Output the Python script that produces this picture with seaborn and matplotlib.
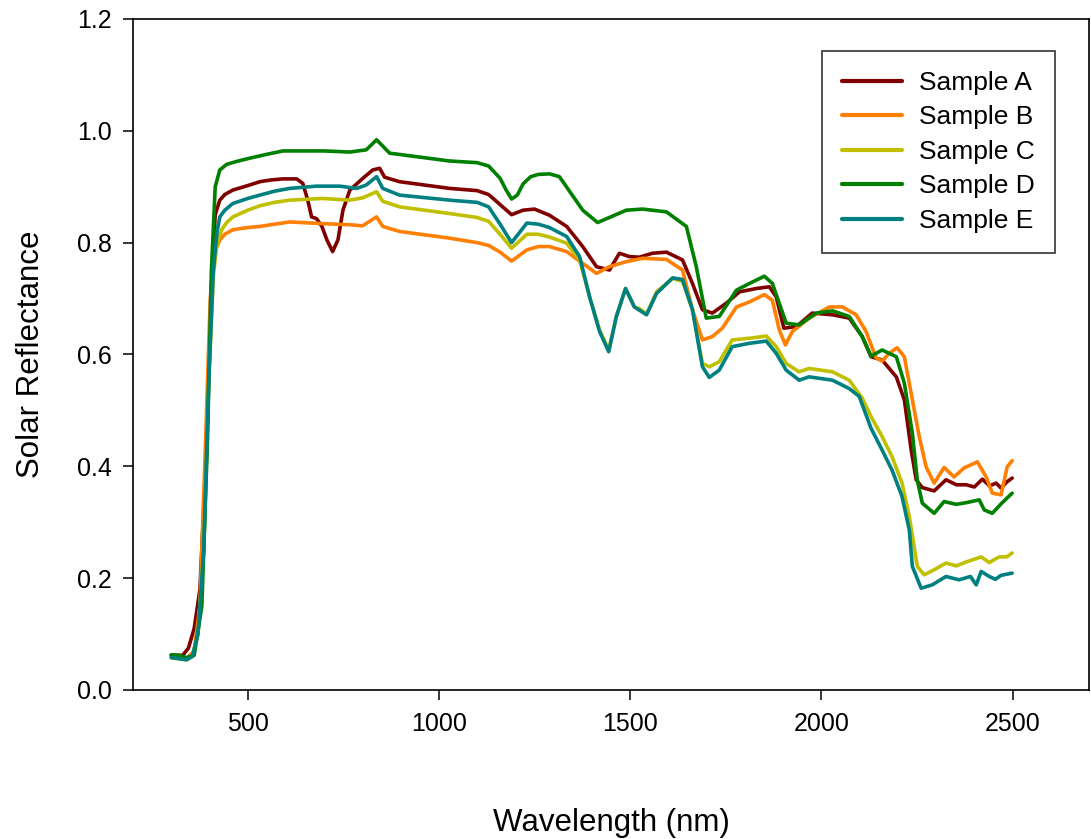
import matplotlib
matplotlib.use("Agg")
from matplotlib import pyplot as plt
import pandas as pd
import seaborn as sns

# wavelengths (nm) and reflectance, one pair of lists per sample
wl_a = [300, 330, 345, 360, 375, 390, 405, 415, 427, 440, 461, 500, 532, 560, 592, 628, 644, 657, 667, 680, 694,
        707, 722, 736, 749, 767, 801, 827, 845, 858, 897, 1028, 1100, 1130, 1160, 1190, 1220, 1250, 1289, 1334,
        1376, 1412, 1446, 1472, 1498, 1524, 1558, 1595, 1637, 1663, 1689, 1715, 1752, 1786, 1830, 1864, 1882,
        1902, 1935, 1976, 2029, 2073, 2107, 2130, 2159, 2196, 2217, 2235, 2248, 2264, 2295, 2326, 2353, 2379,
        2400, 2421, 2440, 2457, 2470, 2485, 2499]
ref_a = [0.062, 0.062, 0.075, 0.11, 0.18, 0.40, 0.72, 0.85, 0.876, 0.886, 0.894, 0.902, 0.909, 0.912, 0.914,
         0.914, 0.906, 0.876, 0.846, 0.843, 0.829, 0.805, 0.784, 0.805, 0.858, 0.894, 0.915, 0.930, 0.933, 0.917,
         0.909, 0.897, 0.893, 0.886, 0.868, 0.850, 0.858, 0.860, 0.849, 0.829, 0.793, 0.757, 0.751, 0.781, 0.775,
         0.774, 0.781, 0.783, 0.769, 0.727, 0.680, 0.674, 0.692, 0.712, 0.718, 0.721, 0.703, 0.647, 0.650, 0.674,
         0.671, 0.665, 0.632, 0.596, 0.590, 0.560, 0.519, 0.429, 0.376, 0.362, 0.356, 0.376, 0.367, 0.367, 0.363,
         0.377, 0.365, 0.370, 0.361, 0.372, 0.379]

wl_b = [300, 340, 360, 375, 390, 402, 412, 427, 440, 461, 500, 532, 570, 610, 696, 767, 800, 837, 853, 897, 1028,
        1100, 1130, 1160, 1190, 1230, 1260, 1289, 1334, 1376, 1412, 1446, 1490, 1533, 1595, 1637, 1663, 1689,
        1715, 1741, 1778, 1812, 1851, 1872, 1890, 1906, 1924, 1968, 2021, 2055, 2091, 2117, 2143, 2159, 2177,
        2198, 2217, 2238, 2256, 2274, 2295, 2321, 2347, 2373, 2408, 2431, 2447, 2470, 2486, 2499]
ref_b = [0.058, 0.056, 0.07, 0.15, 0.45, 0.70, 0.78, 0.805, 0.815, 0.823, 0.827, 0.829, 0.833, 0.837, 0.834,
         0.832, 0.830, 0.846, 0.829, 0.820, 0.808, 0.800, 0.795, 0.783, 0.767, 0.787, 0.793, 0.793, 0.784, 0.763,
         0.745, 0.757, 0.766, 0.772, 0.770, 0.751, 0.680, 0.626, 0.632, 0.647, 0.685, 0.694, 0.707, 0.697, 0.644,
         0.617, 0.641, 0.665, 0.685, 0.685, 0.671, 0.641, 0.594, 0.588, 0.602, 0.612, 0.596, 0.519, 0.453, 0.399,
         0.370, 0.398, 0.381, 0.397, 0.408, 0.381, 0.352, 0.349, 0.399, 0.410]

wl_c = [300, 320, 340, 355, 370, 385, 398, 410, 420, 432, 445, 461, 500, 532, 570, 610, 696, 767, 800, 837, 853,
        897, 1028, 1100, 1130, 1160, 1190, 1230, 1260, 1289, 1334, 1368, 1394, 1420, 1444, 1464, 1488, 1511,
        1524, 1543, 1569, 1611, 1637, 1663, 1689, 1707, 1733, 1767, 1812, 1856, 1882, 1908, 1942, 1968, 2029,
        2073, 2107, 2130, 2159, 2185, 2211, 2230, 2251, 2269, 2295, 2326, 2353, 2379, 2418, 2439, 2465, 2485,
        2499]
ref_c = [0.058, 0.056, 0.054, 0.06, 0.10, 0.25, 0.55, 0.74, 0.80, 0.823, 0.836, 0.846, 0.858, 0.866, 0.872,
         0.876, 0.879, 0.876, 0.880, 0.891, 0.874, 0.864, 0.852, 0.845, 0.838, 0.815, 0.790, 0.815, 0.815, 0.810,
         0.799, 0.769, 0.703, 0.644, 0.608, 0.668, 0.718, 0.685, 0.682, 0.672, 0.712, 0.736, 0.731, 0.680, 0.584,
         0.578, 0.587, 0.626, 0.629, 0.633, 0.614, 0.584, 0.569, 0.575, 0.569, 0.554, 0.522, 0.489, 0.453, 0.417,
         0.370, 0.310, 0.221, 0.206, 0.215, 0.227, 0.222, 0.229, 0.238, 0.228, 0.238, 0.238, 0.245]

wl_d = [300, 320, 340, 360, 380, 395, 405, 415, 427, 445, 470, 505, 550, 592, 700, 767, 810, 837, 871, 1028, 1100,
        1130, 1160, 1175, 1190, 1205, 1220, 1240, 1260, 1289, 1315, 1376, 1415, 1490, 1533, 1595, 1647, 1673,
        1699, 1733, 1778, 1812, 1851, 1872, 1908, 1942, 1987, 2029, 2073, 2107, 2130, 2159, 2196, 2217, 2238,
        2251, 2264, 2295, 2321, 2353, 2379, 2413, 2426, 2447, 2473, 2499]
ref_d = [0.063, 0.062, 0.058, 0.062, 0.15, 0.45, 0.75, 0.90, 0.930, 0.940, 0.945, 0.951, 0.958, 0.964, 0.964,
         0.962, 0.966, 0.984, 0.960, 0.946, 0.943, 0.937, 0.915, 0.895, 0.878, 0.885, 0.905, 0.918, 0.922, 0.923,
         0.918, 0.858, 0.836, 0.858, 0.860, 0.855, 0.829, 0.757, 0.665, 0.668, 0.715, 0.727, 0.740, 0.727, 0.656,
         0.653, 0.674, 0.678, 0.668, 0.632, 0.597, 0.608, 0.596, 0.549, 0.459, 0.375, 0.334, 0.316, 0.337, 0.332,
         0.335, 0.340, 0.322, 0.316, 0.335, 0.352]

wl_e = [300, 320, 340, 355, 370, 385, 398, 410, 420, 427, 440, 461, 500, 532, 570, 610, 680, 741, 785, 810, 837,
        853, 897, 1028, 1100, 1130, 1160, 1190, 1230, 1260, 1289, 1334, 1368, 1394, 1420, 1444, 1464, 1488, 1511,
        1543, 1569, 1611, 1637, 1663, 1689, 1707, 1733, 1767, 1812, 1856, 1882, 1908, 1942, 1968, 2029, 2073,
        2099, 2130, 2159, 2185, 2211, 2230, 2238, 2261, 2290, 2326, 2360, 2390, 2405, 2418, 2439, 2455, 2470,
        2499]
ref_e = [0.058, 0.056, 0.054, 0.06, 0.10, 0.25, 0.55, 0.75, 0.82, 0.846, 0.858, 0.870, 0.879, 0.885, 0.892,
         0.897, 0.901, 0.901, 0.897, 0.903, 0.918, 0.897, 0.885, 0.876, 0.872, 0.864, 0.833, 0.800, 0.835, 0.833,
         0.827, 0.811, 0.775, 0.703, 0.641, 0.605, 0.668, 0.718, 0.685, 0.671, 0.709, 0.737, 0.734, 0.680, 0.578,
         0.559, 0.572, 0.614, 0.620, 0.624, 0.602, 0.572, 0.554, 0.560, 0.554, 0.539, 0.525, 0.468, 0.429, 0.393,
         0.346, 0.286, 0.221, 0.182, 0.188, 0.203, 0.197, 0.203, 0.188, 0.212, 0.203, 0.198, 0.205, 0.209]

samples = ["Sample A", "Sample B", "Sample C", "Sample D", "Sample E"]
colors = ["#800000", "#ff8000", "#c0c000", "#008000", "#008080"]
xticks = [500, 1000, 1500, 2000, 2500]
yticks = [0.0, 0.2, 0.4, 0.6, 0.8, 1.0, 1.2]

frames = []
for name, wl, ref in zip(samples, [wl_a, wl_b, wl_c, wl_d, wl_e], [ref_a, ref_b, ref_c, ref_d, ref_e]):
  frames.append(pd.DataFrame({"Wavelength": wl, "Reflectance": ref, "Sample": name}))
df = pd.concat(frames, ignore_index=True)

sns.set_theme(style="ticks")
plt.rcParams["font.family"] = ["Liberation Sans", "DejaVu Sans"]
plt.rcParams["text.color"] = "black"

fig = plt.figure(figsize=(10.91, 8.39), dpi=100)
ax = fig.add_axes([0.1219, 0.1776, 0.8763, 0.7998])

sns.lineplot(data=df, x="Wavelength", y="Reflectance", hue="Sample",
             palette=dict(zip(samples, colors)), estimator=None, sort=False,
             linewidth=2.6, ax=ax)

ax.set_xlim(200, 2700)
ax.set_ylim(0, 1.2)
ax.set_xticks(xticks)
ax.set_yticks(yticks)
ax.set_yticklabels([f"{v:.1f}" for v in yticks])
for s in ax.spines.values():
  s.set_visible(True)
  s.set_color("black")
  s.set_linewidth(1.2)
ax.tick_params(axis="both", direction="out", length=7.5, width=1.1, color="black",
               labelsize=18, labelcolor="black", pad=8)
ax.set_xlabel("Wavelength (nm)", fontsize=22.5, color="black", labelpad=52)
ax.set_ylabel("Solar Reflectance", fontsize=22.5, color="black", labelpad=22)

leg = ax.legend(loc="upper right", bbox_to_anchor=(0.9644, 0.9523), borderaxespad=0,
                fontsize=19, frameon=True, fancybox=False, shadow=False,
                handlelength=2.3, handletextpad=0.65, labelspacing=0.4, borderpad=0.75)
leg.get_frame().set_edgecolor("black")
leg.get_frame().set_linewidth(1.2)
for text in leg.get_texts():
  text.set_color("black")
for line in leg.get_lines():
  line.set_linewidth(3)

plt.savefig("out.png", dpi=100)
